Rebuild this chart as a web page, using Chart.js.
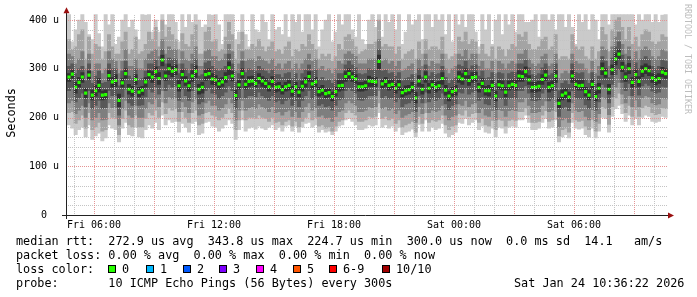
<!DOCTYPE html>
<html><head><meta charset="utf-8">
<script src="https://cdn.jsdelivr.net/npm/chart.js@4.4.1/dist/chart.umd.min.js"></script>
<style>
html,body{margin:0;padding:0;background:#fff;}
#wrap{position:relative;width:697px;height:297px;overflow:hidden;background:#fff;}
#c{position:absolute;left:0;top:0;}
.t{position:absolute;font-family:"DejaVu Sans Mono",monospace;font-size:11.8px;color:#000;white-space:pre;line-height:14px;}
.sq{position:absolute;width:8px;height:8px;box-sizing:border-box;border:1px solid #000;top:265px;}
#ylab{left:-14px;top:106px;width:50px;text-align:center;transform:rotate(-90deg);}
#wm{position:absolute;left:683px;top:4px;font-family:"DejaVu Sans Mono",monospace;font-size:8.3px;color:#bdbdbd;writing-mode:vertical-rl;white-space:pre;line-height:10px;}
</style></head><body>
<div id="wrap">
<canvas id="c" width="697" height="297" style="width:697px;height:297px"></canvas>
<div class="t" id="ylab">Seconds</div>
<div id="wm">RRDTOOL / TOBI OETIKER</div>
<div class="t" style="left:16px;top:234px">median rtt:  272.9 us avg  343.8 us max  224.7 us min  300.0 us now  0.0 ms sd  14.1   am/s</div>
<div class="t" style="left:16px;top:248px">packet loss: 0.00 % avg  0.00 % max  0.00 % min  0.00 % now</div>
<div class="t" style="left:16px;top:262px">loss color:</div>
<div id="legend"></div>
<div class="t" style="left:16px;top:276px">probe:       10 ICMP Echo Pings (56 Bytes) every 300s</div>
<div class="t" style="left:514px;top:276px">Sat Jan 24 10:36:22 2026</div>
</div>
<script>
// ---- time axis (hours since Fri 00:00), one sample every 10 minutes starting Fri 04:40
const startHour = 4 + 40/60;
const stepHours = 10/60;
const xMin = 4.65, xMax = 34.7;
const tickHours = [6, 12, 18, 24, 30];
const tickLabels = ['Fri 06:00', 'Fri 12:00', 'Fri 18:00', 'Sat 00:00', 'Sat 06:00'];
const gridHours = [5,6,7,8,9,10,11,12,13,14,15,16,17,18,19,20,21,22,23,24,25,26,27,28,29,30,31,32,33,34];
const yTickValues = [0, 100, 200, 300, 400];
const yTickLabels = ['0  ', '100 u', '200 u', '300 u', '400 u'];
const yGridValues = [20,40,60,80,100,120,140,160,180,200,220,240,260,280,300,320,340,360,380,400];

// ---- loss legend
const lossLabels = ['0','1','2','3','4','5','6-9','10/10'];
const lossColors = ['#26ff00','#00b8ff','#0059ff','#7e00ff','#ff00ff','#ff5500','#ff0000','#a10000'];
const lossX = [108,146,183,219,256,293,329,382];

// ---- median RTT (microseconds)
const median = [
283,289,262,272,283,250,287,246,255,266,246,247,286,273,276,235,271,290,258,254,278,252,256,273,
288,283,294,280,318,285,300,295,298,265,288,275,
265,285,295,258,262,288,290,279,277,269,273,282,302,285,245,267,290,268,274,275,270,280,275,270,
263,274,262,263,257,263,266,254,263,252,264,273,
284,269,273,253,256,249,251,243,253,265,266,284,290,283,279,263,263,265,275,274,273,315,269,274,
266,268,260,267,251,255,257,262,240,275,258,283,
260,267,262,265,280,256,244,253,256,283,279,290,276,282,283,262,270,255,255,266,244,267,265,252,
265,268,266,285,284,294,277,262,262,264,278,287,
262,265,285,229,246,250,242,285,268,265,266,253,246,268,243,260,300,291,258,298,320,330,303,283,
300,272,288,274,295,300,296,281,277,280,293,290];

// ---- smoke: sorted pings (p1 = min ... p10 = max), microseconds
const p10 = [
420,355,380,400,420,395,370,360,420,372,345,420,390,420,350,365,400,420,385,400,380,360,420,410,
420,375,400,375,420,390,420,420,395,355,420,385,
420,395,420,400,385,390,420,410,420,390,350,420,420,420,360,375,420,370,345,420,380,375,420,395,
360,420,380,385,370,420,365,420,395,420,375,420,
420,380,420,345,380,400,420,355,375,420,390,420,420,380,365,420,360,350,400,420,385,420,365,420,
395,420,380,420,350,375,420,390,400,420,360,420,
420,385,420,400,420,370,420,355,420,390,420,385,420,420,375,345,420,380,420,350,400,420,370,420,
390,420,375,420,420,395,395,400,420,365,420,420,
400,420,380,420,420,385,420,385,350,420,395,420,380,420,400,360,420,420,390,420,420,420,420,420,
420,420,390,420,400,420,420,395,420,395,410,420];
const p9 = [
360,340,345,370,380,320,365,330,350,345,320,335,370,345,330,330,355,375,330,340,365,330,335,350,
375,360,385,345,400,365,385,370,360,340,372,350,
345,370,390,330,330,375,385,355,360,335,340,365,395,370,320,350,375,340,340,350,345,360,345,335,
345,355,335,340,330,345,355,325,340,335,350,345,
370,350,340,320,330,325,330,315,325,350,340,365,370,360,345,330,335,340,350,350,355,400,345,350,
345,345,330,345,320,330,335,340,320,355,330,360,
340,345,345,340,365,330,320,325,330,365,355,375,350,360,355,330,350,330,325,345,320,345,340,325,
340,350,345,370,365,375,350,340,340,345,360,365,
340,345,370,320,325,325,320,370,345,340,345,325,320,345,320,335,385,370,335,380,400,405,385,360,
385,350,365,345,370,380,375,355,350,355,370,365];
const p8 = [
330,325,310,320,335,300,330,295,310,310,290,300,335,320,315,290,315,340,305,305,320,300,300,320,
330,335,340,325,360,330,345,340,340,310,335,320,
315,330,345,305,305,335,340,325,325,315,320,330,350,335,295,310,335,315,320,320,315,325,320,315,
310,320,305,310,300,310,315,300,310,300,310,320,
330,315,320,300,305,295,300,290,300,315,310,330,335,330,325,310,310,310,320,320,320,360,315,320,
310,315,305,315,295,300,305,310,290,320,305,330,
305,315,310,310,330,300,290,300,305,330,325,340,320,330,330,305,315,300,300,315,290,315,310,300,
310,315,310,330,330,340,320,310,305,310,325,330,
305,310,330,280,290,295,290,330,315,310,310,300,290,315,290,305,345,340,305,345,365,375,350,330,
345,320,335,320,340,345,340,325,320,325,340,335];
const p7 = [
305,310,290,300,305,275,310,270,285,295,270,272,310,300,300,265,295,315,285,280,300,278,280,295,
310,310,318,305,340,310,322,320,320,290,310,300,
290,310,320,285,288,312,315,305,300,295,300,305,330,310,272,290,315,292,300,298,295,305,300,295,
290,298,288,288,282,290,292,280,290,278,290,298,
308,295,298,278,282,275,278,270,278,290,290,308,315,308,302,290,288,290,300,298,298,340,295,298,
290,292,285,292,275,280,282,288,268,300,283,308,
285,292,288,290,305,282,270,278,282,308,305,315,300,306,308,285,295,280,282,292,270,292,290,278,
290,293,292,310,310,318,302,288,286,290,302,310,
286,290,310,255,270,275,268,310,292,290,292,278,270,292,268,285,325,315,282,322,345,355,328,308,
325,298,312,300,320,325,320,305,300,305,318,315];
const p6 = [
290,298,272,282,292,260,295,256,266,280,254,256,296,282,288,248,280,300,268,264,288,262,264,282,
296,294,304,292,328,294,310,305,308,276,298,284,
274,296,306,268,272,298,300,290,286,280,282,292,314,295,256,276,300,278,284,285,280,290,284,280,
272,284,270,272,266,272,276,264,272,262,274,282,
294,278,282,262,266,258,260,252,262,276,276,294,300,292,288,272,272,274,285,282,282,328,278,282,
276,278,270,276,260,265,266,272,252,286,268,294,
270,276,272,274,292,266,254,262,266,294,290,300,286,292,293,270,280,264,266,276,254,276,275,262,
275,278,276,296,294,304,286,272,272,274,288,298,
272,275,296,240,256,260,252,296,278,276,276,262,256,278,254,270,312,300,268,308,332,340,313,292,
311,282,298,284,306,310,306,290,287,290,303,300];
const p5 = [
274,280,250,262,272,240,278,236,244,252,236,238,276,262,264,222,262,280,248,244,268,242,246,262,
278,272,284,268,306,276,288,284,288,254,276,266,
254,274,282,248,250,276,280,268,266,258,264,272,288,275,236,258,280,258,264,266,262,270,264,260,
254,264,252,254,248,254,256,244,254,242,254,262,
274,258,264,244,246,240,242,234,244,254,256,274,280,274,270,254,254,256,264,264,264,300,260,264,
256,258,250,256,242,246,248,252,230,264,248,272,
250,258,252,256,268,246,234,244,246,272,268,280,266,272,274,252,260,246,244,256,234,258,256,242,
256,258,256,274,274,284,268,252,252,254,268,276,
252,256,272,220,236,240,232,272,258,256,256,244,236,258,234,250,288,282,248,288,308,320,294,274,
290,262,278,264,284,290,286,272,267,270,283,280];
const p4 = [
255,262,232,240,250,222,255,218,225,235,218,220,255,245,245,205,242,258,230,225,250,225,226,242,
258,252,262,248,280,255,268,262,265,235,258,245,
235,255,262,228,232,255,260,250,248,238,245,252,265,255,218,238,260,240,245,245,242,252,245,240,
235,245,232,235,228,235,238,225,235,222,235,245,
255,238,245,225,228,222,224,215,225,236,238,255,260,255,250,236,235,238,245,245,245,280,240,245,
238,240,232,238,222,228,230,235,212,245,230,252,
232,238,235,238,250,228,216,225,228,252,250,260,248,252,255,235,242,228,226,238,216,240,238,225,
238,240,238,255,255,265,250,235,234,236,250,258,
234,238,255,202,218,222,214,255,240,238,238,226,218,240,215,232,268,262,230,268,288,298,272,255,
270,245,260,246,265,270,266,254,250,252,264,262];
const p3 = [
230,235,208,215,225,200,230,195,200,210,195,196,230,220,220,185,218,235,205,200,225,200,200,218,
232,228,238,222,255,230,242,238,240,212,232,222,
210,232,238,205,208,230,235,225,225,215,220,228,240,230,195,215,235,215,220,222,218,228,222,218,
212,222,210,212,205,212,215,202,212,200,212,222,
230,215,220,202,205,198,200,192,202,212,215,230,235,230,225,212,212,215,222,220,222,255,218,222,
215,218,208,215,200,205,208,212,190,222,208,230,
210,215,212,215,225,205,195,202,205,228,225,235,222,228,230,210,218,205,202,214,195,216,214,202,
214,216,214,232,232,240,225,210,210,212,225,234,
212,215,232,180,195,198,190,230,215,212,214,202,195,216,192,208,242,238,206,242,262,272,248,230,
245,222,236,222,240,245,242,230,226,228,240,238];
const p2 = [
210,212,188,195,205,178,210,175,180,190,172,175,210,200,198,165,198,215,185,180,205,180,180,198,
210,205,215,200,232,208,220,215,218,192,212,200,
190,210,215,185,188,210,212,205,202,195,200,208,218,210,175,195,215,195,200,200,198,205,200,198,
192,200,190,192,185,192,195,182,192,180,192,200,
210,195,200,182,185,178,180,172,182,192,195,210,215,210,205,192,192,195,202,200,202,230,198,202,
195,198,188,195,180,185,188,192,170,202,188,210,
190,195,192,195,205,185,175,182,185,208,205,215,202,208,210,190,198,185,182,194,175,196,194,182,
194,196,194,212,212,220,205,190,190,192,205,214,
192,195,212,162,175,178,170,210,195,192,194,182,175,196,172,188,222,218,186,222,240,250,228,210,
225,202,216,202,220,225,222,210,206,208,220,218];
const p1 = [
185,178,165,175,180,160,185,155,162,168,152,158,185,178,175,150,178,190,165,162,180,160,158,175,
185,178,190,175,205,185,195,190,192,170,188,180,
170,188,192,165,168,190,192,182,180,172,178,185,195,188,155,175,195,172,178,180,176,182,178,175,
180,185,175,180,172,182,185,172,182,170,180,188,
190,180,185,170,175,170,172,165,172,182,185,195,198,192,185,175,175,178,185,182,185,210,180,185,
178,182,172,180,165,170,172,176,160,186,172,195,
172,180,175,178,188,168,160,165,170,190,188,198,185,190,195,175,182,170,168,178,160,180,178,168,
180,182,180,195,195,205,190,175,175,178,190,198,
178,180,195,150,160,165,158,190,178,176,178,165,160,178,158,172,200,198,170,202,218,225,208,192,
205,185,198,185,200,205,202,192,190,192,202,200];

// ---- legend squares
const leg = document.getElementById('legend');
lossLabels.forEach((lab, i) => {
  const s = document.createElement('div');
  s.className = 'sq'; s.style.left = lossX[i] + 'px'; s.style.background = lossColors[i];
  leg.appendChild(s);
  const t = document.createElement('div');
  t.className = 't'; t.style.left = (lossX[i] + 14) + 'px'; t.style.top = '262px'; t.textContent = lab;
  leg.appendChild(t);
});

// ---- chart
const xAt = i => startHour + (i + 0.5) * stepHours;
const band = (lo, hi, color, order) => ({
  type: 'bar',
  data: lo.map((v, i) => ({x: xAt(i), y: [v, hi[i]]})),
  backgroundColor: color, borderWidth: 0, borderSkipped: false,
  grouped: false, barPercentage: 1, categoryPercentage: 1, order: order
});
const majorCol = 'rgb(228,148,148)';
const minorCol = 'rgb(196,196,196)';
const fontMono = {family: 'DejaVu Sans Mono', size: 10};

// dotted rrdtool-style grid, drawn on top of the smoke through the chart's scales
const gridPlugin = {
  id: 'rrdGrid',
  afterDatasetsDraw(chart) {
    const {ctx, chartArea: a, scales} = chart;
    const L = Math.round(a.left), R = Math.round(a.right), T = Math.ceil(a.top), B = Math.round(a.bottom);
    ctx.save();
    yGridValues.forEach(v => {
      const py = Math.round(scales.y.getPixelForValue(v));
      ctx.fillStyle = v % 100 === 0 ? majorCol : minorCol;
      for (let px = L + 1; px < R; px += 2) ctx.fillRect(px, py, 1, 1);
    });
    gridHours.forEach(h => {
      const px = Math.round(scales.x.getPixelForValue(h));
      ctx.fillStyle = h % 3 === 0 ? majorCol : minorCol;
      for (let py = T; py < B; py += 2) ctx.fillRect(px, py, 1, 1);
    });
    ctx.restore();
  }
};

const axesPlugin = {
  id: 'rrdAxes',
  afterDraw(chart) {
    const {ctx, chartArea: a} = chart;
    ctx.save();
    ctx.strokeStyle = '#222'; ctx.lineWidth = 1;
    ctx.beginPath();
    ctx.moveTo(62, Math.round(a.bottom) + 0.5); ctx.lineTo(a.right + 1, Math.round(a.bottom) + 0.5);
    ctx.moveTo(Math.round(a.left) - 0.5, a.bottom + 4); ctx.lineTo(Math.round(a.left) - 0.5, a.top - 3);
    ctx.stroke();
    ctx.fillStyle = '#9a1010';
    const yb = Math.round(a.bottom) + 0.5;
    ctx.beginPath(); ctx.moveTo(a.right, yb - 3); ctx.lineTo(a.right + 6, yb); ctx.lineTo(a.right, yb + 3); ctx.closePath(); ctx.fill();
    const xl = Math.round(a.left) - 0.5;
    ctx.beginPath(); ctx.moveTo(xl - 3, a.top - 1); ctx.lineTo(xl, a.top - 7); ctx.lineTo(xl + 3, a.top - 1); ctx.closePath(); ctx.fill();
    ctx.restore();
  }
};

new Chart(document.getElementById('c'), {
  type: 'bar',
  data: {
    datasets: [
      band(p1, p10, '#cacaca', 6),
      band(p2, p9, '#a4a4a4', 5),
      band(p3, p8, '#7e7e7e', 4),
      band(p4, p7, '#585858', 3),
      band(p5, p6, '#323232', 2),
      {
        type: 'line', showLine: false, order: 1,
        data: median.map((v, i) => ({x: xAt(i), y: v})),
        pointStyle: 'rect', pointRadius: 2.2, pointBorderWidth: 0,
        pointBackgroundColor: '#26ff00', backgroundColor: '#26ff00', borderColor: '#26ff00'
      }
    ]
  },
  options: {
    responsive: false, animation: false, devicePixelRatio: 1,
    layout: {padding: {left: 0, right: 29, top: 14.15, bottom: 0}},
    plugins: {legend: {display: false}, tooltip: {enabled: false}},
    scales: {
      x: {
        type: 'linear', min: xMin, max: xMax, offset: false,
        afterBuildTicks: s => { s.ticks = tickHours.map(v => ({value: v})); },
        afterFit: s => { s.height = 82; },
        grid: {display: false, offset: false, drawTicks: false},
        border: {display: false},
        ticks: {autoSkip: false, maxRotation: 0, minRotation: 0, padding: 4, color: '#000', font: fontMono,
          callback: v => { const k = tickHours.indexOf(v); return k >= 0 ? tickLabels[k] : ''; }}
      },
      y: {
        type: 'linear', min: 0, max: 412,
        afterBuildTicks: s => { s.ticks = yTickValues.map(v => ({value: v})); },
        afterFit: s => { s.width = 67; },
        grid: {display: false, drawTicks: false},
        border: {display: false},
        ticks: {autoSkip: false, padding: 8, color: '#000', font: fontMono,
          callback: v => { const k = yTickValues.indexOf(v); return k >= 0 ? yTickLabels[k] : ''; }}
      }
    }
  },
  plugins: [gridPlugin, axesPlugin]
});
</script>
</body></html>
